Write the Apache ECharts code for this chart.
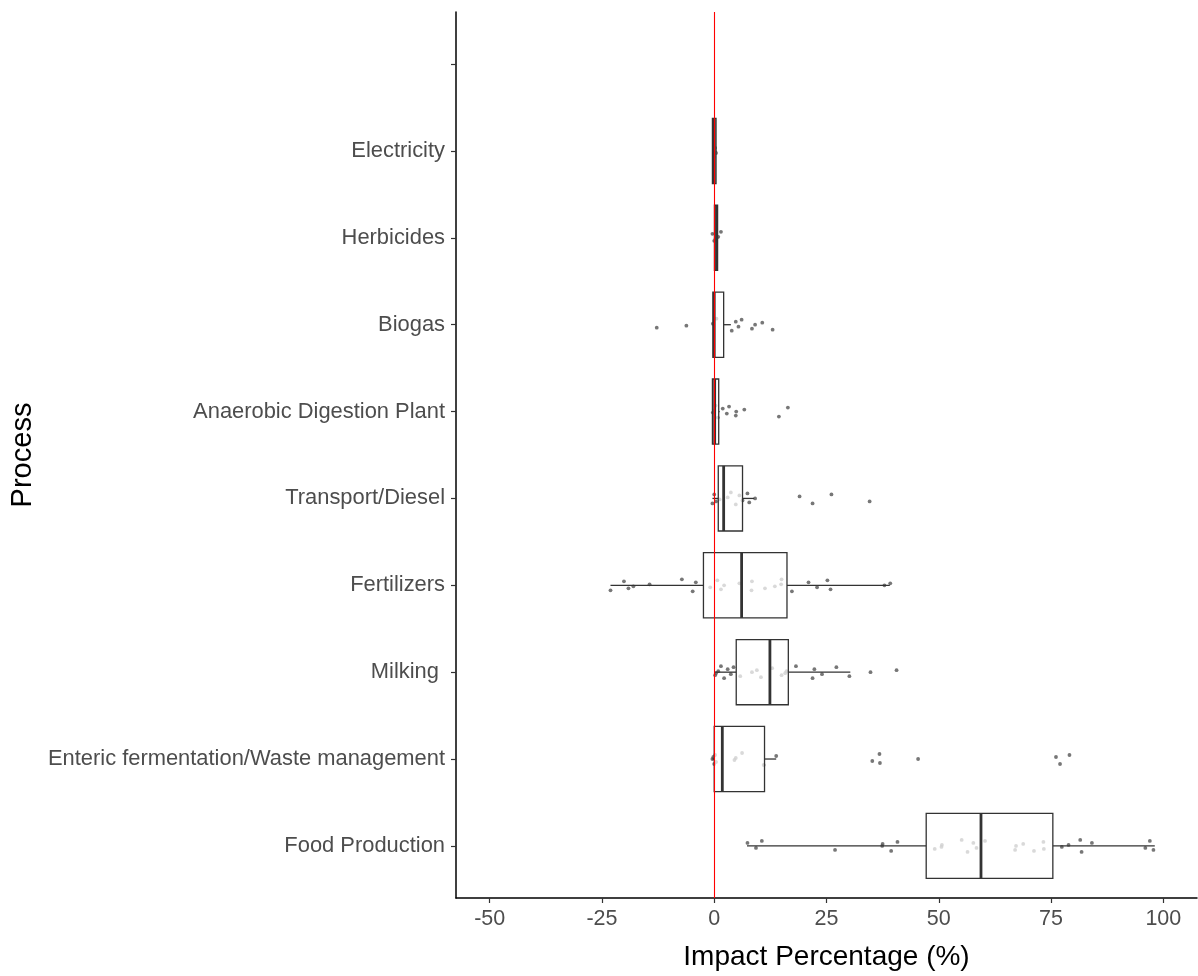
<!DOCTYPE html>
<html>
<head>
<meta charset="utf-8">
<script src="https://cdn.jsdelivr.net/npm/echarts@6/dist/echarts.min.js"></script>
<style>
  html, body { margin: 0; padding: 0; background: #fff; }
  #chart { width: 1198px; height: 976px; }
</style>
</head>
<body>
<div id="chart"></div>
<script>
// Categories, bottom to top (last one is the empty top level)
const categories = ["Food Production", "Enteric fermentation/Waste management", "Milking ", "Fertilizers",
  "Transport/Diesel", "Anaerobic Digestion Plant", "Biogas", "Herbicides", "Electricity", ""];

// Box statistics per category (null for the empty level)
const boxMin    = [7.3,  -0.4,  0.2, -23.1, -0.4, -0.4, -0.4, 0.0,  -0.4, null];
const boxQ1     = [47.2,  0.0,  4.9,  -2.4,  0.9, -0.4, -0.3, 0.05, -0.4, null];
const boxMedian = [59.4,  1.8, 12.4,   6.1,  2.1,  0.1,  0.0, 0.5,   0.0, null];
const boxQ3     = [75.4, 11.2, 16.5,  16.2,  6.3,  1.0,  2.1, 0.75,  0.4, null];
const boxMax    = [98.1, 13.8, 30.3,  39.1,  8.9,  1.2,  3.7, 0.9,   0.5, null];

// Individual observations per category
const ptsFood = [7.4, 9.3, 10.6, 26.9, 37.4, 37.5, 39.4, 40.8, 49.1, 50.6, 50.7, 55.1, 56.4, 57.7, 58.4, 60.3,
  67.0, 67.2, 68.8, 71.2, 73.3, 73.4, 77.4, 78.9, 81.5, 81.8, 84.1, 96.0, 97.0, 97.8];
const ptsEnteric = [-0.4, -0.2, 0.0, 0.2, 0.4, 4.5, 4.8, 6.2, 11.0, 13.8, 35.2, 36.8, 36.9, 45.4, 76.1, 77.0, 79.1];
const ptsMilking = [0.2, 0.4, 0.9, 1.5, 2.2, 3.0, 3.7, 4.3, 5.8, 8.4, 9.5, 10.4, 12.9, 15.0, 15.8, 16.1,
  18.2, 21.9, 22.3, 24.0, 27.2, 30.1, 34.8, 40.6];
const ptsFertilizers = [-23.1, -20.1, -19.1, -18.0, -14.4, -7.2, -4.8, -4.1, -0.9, 0.7, 1.5, 2.2, 5.6, 8.3, 8.4,
  11.3, 13.5, 14.9, 15.0, 17.3, 21.0, 22.9, 25.2, 25.9, 37.9, 39.2];
const ptsTransport = [-0.4, 0.0, 0.4, 1.2, 3.0, 3.7, 4.8, 5.6, 6.3, 7.4, 7.8, 9.1, 19.0, 21.9, 26.1, 34.6];
const ptsAnaerobic = [-0.3, 0.0, 0.3, 0.8, 1.9, 2.8, 3.3, 4.8, 4.9, 6.7, 14.4, 16.4];
const ptsBiogas = [-12.8, -6.2, -0.3, 0.5, 3.9, 4.8, 5.4, 6.1, 8.4, 9.1, 10.7, 13.0];
const ptsHerbicides = [-0.4, 0.0, 0.3, 0.9, 1.5];
const ptsElectricity = [0.0, 0.2, 0.4];
const pointsByCategory = [ptsFood, ptsEnteric, ptsMilking, ptsFertilizers, ptsTransport,
  ptsAnaerobic, ptsBiogas, ptsHerbicides, ptsElectricity, []];

// Axis ticks
const xTicks = [-50, -25, 0, 25, 50, 75, 100];
const yTicks = [0, 1, 2, 3, 4, 5, 6, 7, 8, 9];
const refLine = 0;

// visual jitter (pixels) for the dots
const jitterPx = [-3, 2, -5, 4, 0, -2, 5, -4, 3, 1, -1, -6, 6];

const boxData = [];
categories.forEach((c, i) => {
  if (boxMin[i] !== null) boxData.push([i, boxMin[i], boxQ1[i], boxMedian[i], boxQ3[i], boxMax[i]]);
});
const scatterData = [];
let k = 0;
pointsByCategory.forEach((arr, i) => {
  arr.forEach(v => {
    scatterData.push({ value: [v, i], symbolOffset: [0, jitterPx[k % jitterPx.length]] });
    k++;
  });
});

const FONT = '"Liberation Sans", Arial, sans-serif';
const chart = echarts.init(document.getElementById('chart'), null, { renderer: 'canvas' });
chart.setOption({
  animation: false,
  backgroundColor: '#ffffff',
  grid: { left: 456, right: 1, top: 12, bottom: 78, containLabel: false, outerBoundsMode: 'none' },
  xAxis: {
    type: 'value', min: -57.5, max: 107.5,
    name: 'Impact Percentage (%)', nameLocation: 'middle', nameGap: 45,
    nameTextStyle: { color: '#000', fontSize: 28, fontFamily: FONT },
    axisLine: { show: true, onZero: false, lineStyle: { color: '#000', width: 1.5 } },
    axisTick: { show: true, length: 5, lineStyle: { color: '#333', width: 1.2 }, customValues: xTicks },
    axisLabel: { color: '#4d4d4d', fontSize: 21.5, fontFamily: FONT, margin: 10, customValues: xTicks },
    splitLine: { show: false }
  },
  yAxis: {
    type: 'value', min: -0.6, max: 9.6,
    name: 'Process', nameLocation: 'middle', nameGap: 418, nameRotate: 90,
    nameTextStyle: { color: '#000', fontSize: 29, fontFamily: FONT },
    axisLine: { show: true, onZero: false, lineStyle: { color: '#000', width: 1.5 } },
    axisTick: { show: true, length: 5, lineStyle: { color: '#333', width: 1.2 }, customValues: yTicks },
    axisLabel: { color: '#4d4d4d', fontSize: 21.9, fontFamily: FONT, margin: 11, customValues: yTicks,
      formatter: v => categories[Math.round(v)] },
    splitLine: { show: false }
  },
  series: [
    {
      type: 'scatter', z: 2, silent: true,
      symbol: 'circle', symbolSize: 3.8,
      itemStyle: { color: '#555555' },
      data: scatterData
    },
    {
      type: 'custom', z: 3, silent: true,
      encode: { x: [1, 2, 3, 4, 5], y: 0 },
      data: boxData,
      renderItem: function (params, api) {
        const i = api.value(0);
        const pMin = api.coord([api.value(1), i]);
        const pQ1 = api.coord([api.value(2), i]);
        const pMed = api.coord([api.value(3), i]);
        const pQ3 = api.coord([api.value(4), i]);
        const pMax = api.coord([api.value(5), i]);
        const h = api.size([0, 0.75])[1];
        const cy = pQ1[1];
        const stroke = '#333333';
        return {
          type: 'group',
          children: [
            { type: 'line', shape: { x1: pMin[0], y1: cy, x2: pQ1[0], y2: cy }, style: { stroke: stroke, lineWidth: 1.3 } },
            { type: 'line', shape: { x1: pQ3[0], y1: cy, x2: pMax[0], y2: cy }, style: { stroke: stroke, lineWidth: 1.3 } },
            { type: 'rect', shape: { x: pQ1[0], y: cy - h / 2, width: Math.max(pQ3[0] - pQ1[0], 0.5), height: h },
              style: { fill: 'rgba(255,255,255,0.72)', stroke: stroke, lineWidth: 1.3 } },
            { type: 'line', shape: { x1: pMed[0], y1: cy - h / 2, x2: pMed[0], y2: cy + h / 2 }, style: { stroke: stroke, lineWidth: 2.8 } }
          ]
        };
      },
      markLine: {
        silent: true, symbol: 'none', label: { show: false },
        lineStyle: { color: '#ff0000', width: 1.1, type: 'solid' },
        data: [{ xAxis: refLine }]
      }
    }
  ]
});
</script>
</body>
</html>
